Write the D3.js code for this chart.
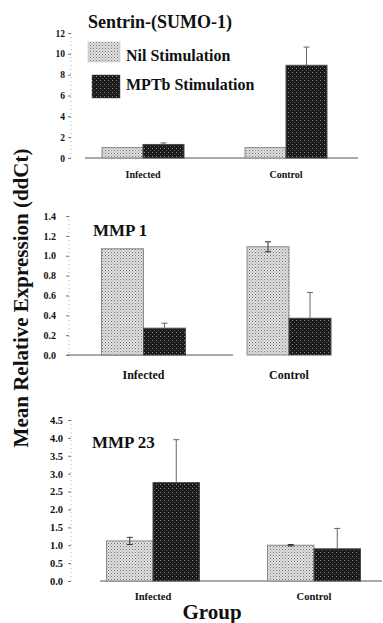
<!DOCTYPE html>
<html>
<head>
<meta charset="utf-8">
<script src="https://cdn.jsdelivr.net/npm/d3@7"></script>
<style>
  html, body { margin: 0; padding: 0; background: #fff; }
  svg { display: block; font-family: "Liberation Serif", "Times New Roman", serif; font-weight: bold; }
</style>
</head>
<body>
<svg id="chart" width="383" height="623"></svg>
<script>
// Groups and series
const groups = ["Infected", "Control"];
const seriesNames = ["Nil Stimulation", "MPTb Stimulation"];

// Sentrin-(SUMO-1)
const sumoNil = [1.0, 1.0];
const sumoNilErr = [0, 0];
const sumoMptb = [1.3, 8.9];
const sumoMptbErr = [0.15, 1.75];
const sumoTicks = [0, 2, 4, 6, 8, 10, 12];

// MMP 1
const mmp1Nil = [1.07, 1.09];
const mmp1NilErr = [0, 0.05];
const mmp1Mptb = [0.27, 0.37];
const mmp1MptbErr = [0.05, 0.26];
const mmp1Ticks = [0, 0.2, 0.4, 0.6, 0.8, 1.0, 1.2, 1.4];

// MMP 23
const mmp23Nil = [1.12, 1.0];
const mmp23NilErr = [0.1, 0.02];
const mmp23Mptb = [2.75, 0.9];
const mmp23MptbErr = [1.2, 0.57];
const mmp23Ticks = [0, 0.5, 1.0, 1.5, 2.0, 2.5, 3.0, 3.5, 4.0, 4.5];

const svg = d3.select("#chart");
const defs = svg.append("defs");

// Stipple fills for the two stimulation conditions
const lightPat = defs.append("pattern").attr("id", "nilFill")
  .attr("patternUnits", "userSpaceOnUse").attr("width", 3).attr("height", 3);
lightPat.append("rect").attr("width", 3).attr("height", 3).attr("fill", "#e2e2e2");
lightPat.append("rect").attr("x", 0).attr("y", 0).attr("width", 1).attr("height", 1).attr("fill", "#707070");
lightPat.append("rect").attr("x", 1.5).attr("y", 1.5).attr("width", 1).attr("height", 1).attr("fill", "#909090");

const darkPat = defs.append("pattern").attr("id", "mptbFill")
  .attr("patternUnits", "userSpaceOnUse").attr("width", 4).attr("height", 4);
darkPat.append("rect").attr("width", 4).attr("height", 4).attr("fill", "#1a1a1a");
darkPat.append("rect").attr("x", 0).attr("y", 0).attr("width", 1).attr("height", 1).attr("fill", "#8c8c8c");
darkPat.append("rect").attr("x", 2).attr("y", 2).attr("width", 1).attr("height", 1).attr("fill", "#5a5a5a");

const fills = ["url(#nilFill)", "url(#mptbFill)"];
const strokes = ["#8a8a8a", "#4a4a4a"];

const panels = [
  { title: "Sentrin-(SUMO-1)", nil: sumoNil, nilErr: sumoNilErr, mptb: sumoMptb, mptbErr: sumoMptbErr,
    ticks: sumoTicks, fmt: d3.format("d"), max: 12,
    y0: 158, yTop: 33, axisX: 71, labelX: 65, tickFont: 9.5,
    centers: [143, 286], half: 41, base: [[85, 358]],
    titleX: 88, titleY: 28, titleSize: 18, catY: 178, catSize: 10 },
  { title: "MMP 1", nil: mmp1Nil, nilErr: mmp1NilErr, mptb: mmp1Mptb, mptbErr: mmp1MptbErr,
    ticks: mmp1Ticks, fmt: d3.format(".1f"), max: 1.4,
    y0: 355, yTop: 216, axisX: 69, labelX: 56, tickFont: 10,
    centers: [143.5, 289], half: 42, base: [[67, 233]],
    titleX: 93, titleY: 236, titleSize: 17, catY: 379, catSize: 12 },
  { title: "MMP 23", nil: mmp23Nil, nilErr: mmp23NilErr, mptb: mmp23Mptb, mptbErr: mmp23MptbErr,
    ticks: mmp23Ticks, fmt: d3.format(".1f"), max: 4.5,
    y0: 581, yTop: 420, axisX: 71, labelX: 63, tickFont: 10.5,
    centers: [153, 314], half: 46.5, base: [[100, 382]],
    titleX: 92, titleY: 448, titleSize: 17, catY: 600, catSize: 10.5 }
];

panels.forEach(p => {
  const g = svg.append("g");
  const y = d3.scaleLinear().domain([0, p.max]).range([p.y0, p.yTop]);
  const xGroup = d3.scaleOrdinal().domain(groups).range(p.centers);
  const xSeries = d3.scaleBand().domain(seriesNames).range([-p.half, p.half]).padding(0);

  // dotted y axis line
  g.append("line").attr("x1", p.axisX).attr("x2", p.axisX)
    .attr("y1", p.yTop).attr("y2", p.y0)
    .attr("stroke", "#9a9a9a").attr("stroke-width", 0.8).attr("stroke-dasharray", "1,3");

  const axis = d3.axisLeft(y).tickValues(p.ticks).tickFormat(p.fmt).tickSize(3).tickPadding(3);
  const ax = g.append("g").attr("transform", `translate(${p.axisX},0)`).call(axis);
  ax.select(".domain").remove();
  ax.selectAll(".tick line").attr("stroke", "#555").attr("stroke-width", 0.8);
  ax.selectAll(".tick text")
    .attr("x", p.labelX - p.axisX)
    .attr("fill", "#111")
    .style("font-family", "'Liberation Serif', serif")
    .style("font-weight", "bold")
    .style("font-size", p.tickFont + "px");

  // baseline
  p.base.forEach(b => {
    g.append("line").attr("x1", b[0]).attr("x2", b[1])
      .attr("y1", y(0)).attr("y2", y(0))
      .attr("stroke", "#555").attr("stroke-width", 1);
  });

  const series = [
    { name: seriesNames[0], vals: p.nil, errs: p.nilErr },
    { name: seriesNames[1], vals: p.mptb, errs: p.mptbErr }
  ];

  series.forEach((s, si) => {
    groups.forEach((grp, gi) => {
      const x0 = xGroup(grp) + xSeries(s.name);
      const w = xSeries.bandwidth();
      g.append("rect")
        .attr("x", x0).attr("y", y(s.vals[gi]))
        .attr("width", w).attr("height", y(0) - y(s.vals[gi]))
        .attr("fill", fills[si]).attr("stroke", strokes[si]).attr("stroke-width", 1);
    });
  });

  // error bars
  series.forEach((s, si) => {
    groups.forEach((grp, gi) => {
      const e = s.errs[gi];
      if (!e) return;
      const cx = xGroup(grp) + xSeries(s.name) + xSeries.bandwidth() / 2;
      const hi = y(s.vals[gi] + e);
      const lo = si === 0 ? y(s.vals[gi] - e) : y(s.vals[gi]);
      const col = si === 0 ? "#333" : "#666";
      g.append("line").attr("x1", cx).attr("x2", cx).attr("y1", hi).attr("y2", lo)
        .attr("stroke", col).attr("stroke-width", 1);
      g.append("line").attr("x1", cx - 3).attr("x2", cx + 3).attr("y1", hi).attr("y2", hi)
        .attr("stroke", col).attr("stroke-width", 1);
      if (si === 0) {
        g.append("line").attr("x1", cx - 3).attr("x2", cx + 3).attr("y1", lo).attr("y2", lo)
          .attr("stroke", col).attr("stroke-width", 1);
      }
    });
  });

  // category labels
  groups.forEach(grp => {
    g.append("text").attr("x", xGroup(grp)).attr("y", p.catY)
      .attr("text-anchor", "middle").attr("font-size", p.catSize).attr("fill", "#111")
      .text(grp);
  });

  // panel title
  g.append("text").attr("x", p.titleX).attr("y", p.titleY)
    .attr("font-size", p.titleSize).attr("fill", "#111").text(p.title);
});

// legend
const legend = svg.append("g");
const legendRows = [
  { name: seriesNames[0], fill: fills[0], x: 88, y: 42, w: 32, h: 20, ty: 61 },
  { name: seriesNames[1], fill: fills[1], x: 92, y: 75, w: 28, h: 23, ty: 90 }
];
legendRows.forEach((r, i) => {
  legend.append("rect").attr("x", r.x).attr("y", r.y).attr("width", r.w).attr("height", r.h)
    .attr("fill", r.fill).attr("stroke", i ? "#555" : "#bbb").attr("stroke-width", 0.5);
  legend.append("text").attr("x", 126).attr("y", r.ty)
    .attr("font-size", 16).attr("fill", "#111").text(r.name);
});

// shared axis titles
svg.append("text")
  .attr("transform", "translate(28,298) rotate(-90)")
  .attr("text-anchor", "middle").attr("font-size", 21).attr("fill", "#111")
  .text("Mean Relative Expression (ddCt)");

svg.append("text").attr("x", 212).attr("y", 619)
  .attr("text-anchor", "middle").attr("font-size", 21).attr("fill", "#111")
  .text("Group");
</script>
</body>
</html>
